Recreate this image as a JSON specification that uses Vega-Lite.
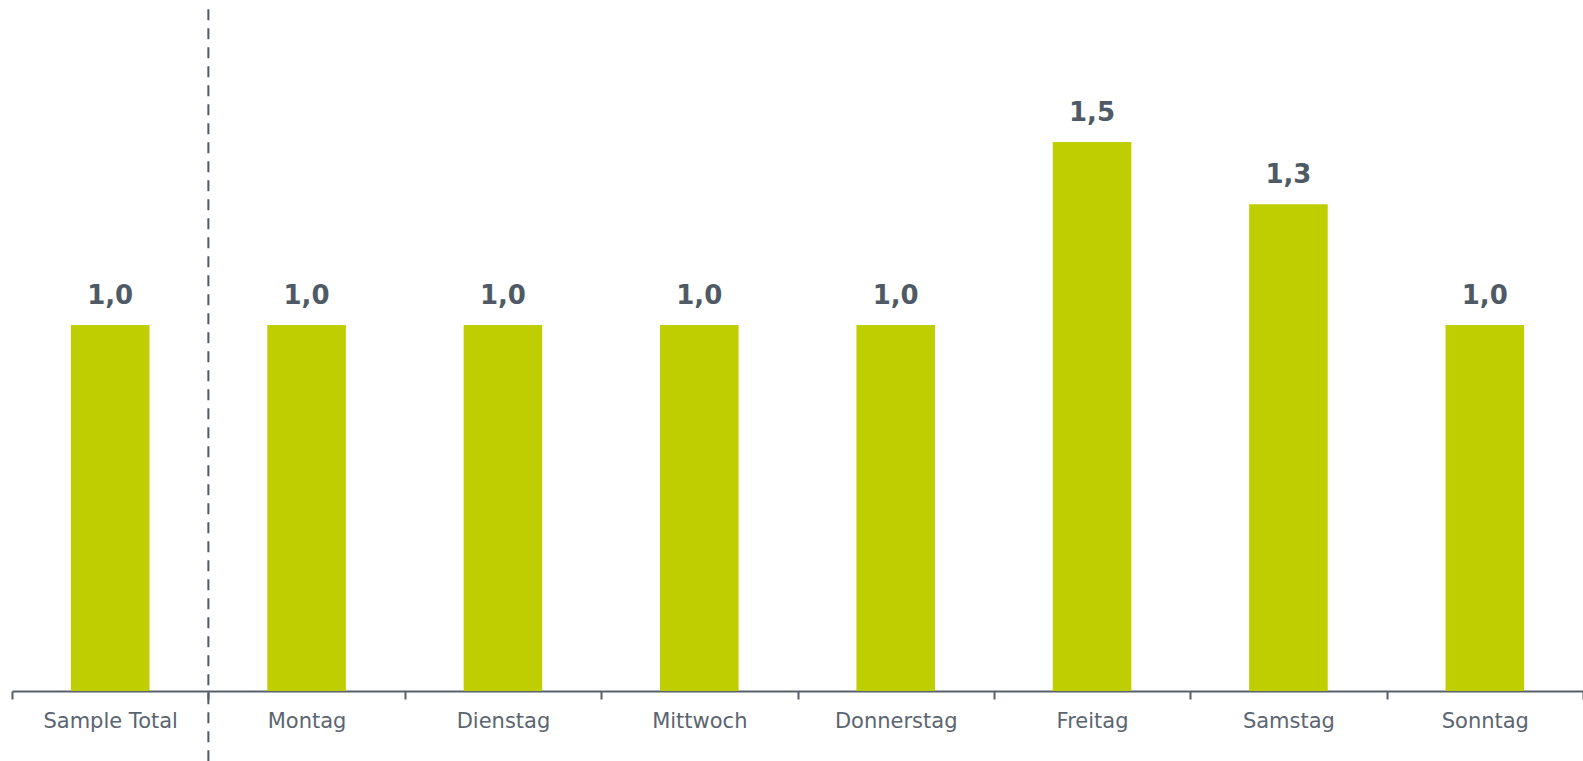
{
  "$schema": "https://vega.github.io/schema/vega-lite/v6.json",
  "width": 1571,
  "height": 691,
  "autosize": {"type": "none"},
  "padding": {"left": 12, "top": 0, "right": 0, "bottom": 70},
  "background": "white",
  "config": {
    "view": {"stroke": null},
    "locale": {"number": {"decimal": ",", "thousands": ".", "grouping": [3], "currency": ["", " €"]}}
  },
  "encoding": {
    "x": {"field": "day", "type": "nominal",
      "sort": ["Sample Total", "Montag", "Dienstag", "Mittwoch", "Donnerstag", "Freitag", "Samstag", "Sonntag"],
      "scale": {"domain": ["Sample Total", "Montag", "Dienstag", "Mittwoch", "Donnerstag", "Freitag", "Samstag", "Sonntag"], "paddingInner": 0, "paddingOuter": 0},
      "axis": {"title": null, "labelAngle": 0, "tickBand": "extent", "labelFont": "DejaVu Sans", "labelFontSize": 21, "labelColor": "#5a6571", "labelPadding": 11, "domainColor": "#56616c", "domainWidth": 2, "tickColor": "#56616c", "tickWidth": 2, "tickSize": 8, "grid": false}}
  },
  "layer": [
    {
      "data": {"values": [
        {"day": "Sample Total", "value": 1.0},
        {"day": "Montag", "value": 1.0},
        {"day": "Dienstag", "value": 1.0},
        {"day": "Mittwoch", "value": 1.0},
        {"day": "Donnerstag", "value": 1.0},
        {"day": "Freitag", "value": 1.5},
        {"day": "Samstag", "value": 1.33},
        {"day": "Sonntag", "value": 1.0}
      ]},
      "layer": [
        {
          "mark": {"type": "bar", "color": "#bfce00", "width": {"band": 0.4}},
          "encoding": {
            "y": {"field": "value", "type": "quantitative", "scale": {"domain": [0, 1.888], "nice": false}, "axis": null}
          }
        },
        {
          "mark": {"type": "text", "baseline": "alphabetic", "dy": -21, "font": "DejaVu Sans", "fontWeight": "bold", "fontSize": 26, "color": "#4e5a66"},
          "encoding": {
            "y": {"field": "value", "type": "quantitative"},
            "text": {"field": "value", "type": "quantitative", "format": ".1f"}
          }
        }
      ]
    },
    {
      "data": {"values": [{"day": "Montag", "top": 1.863, "bottom": -0.2}]},
      "mark": {"type": "rule", "color": "#4e5a66", "strokeWidth": 2, "strokeDash": [11, 8]},
      "encoding": {
        "x": {"field": "day", "type": "nominal", "bandPosition": 0,
          "sort": ["Sample Total", "Montag", "Dienstag", "Mittwoch", "Donnerstag", "Freitag", "Samstag", "Sonntag"]},
        "y": {"field": "top", "type": "quantitative"},
        "y2": {"field": "bottom"}
      }
    }
  ]
}
